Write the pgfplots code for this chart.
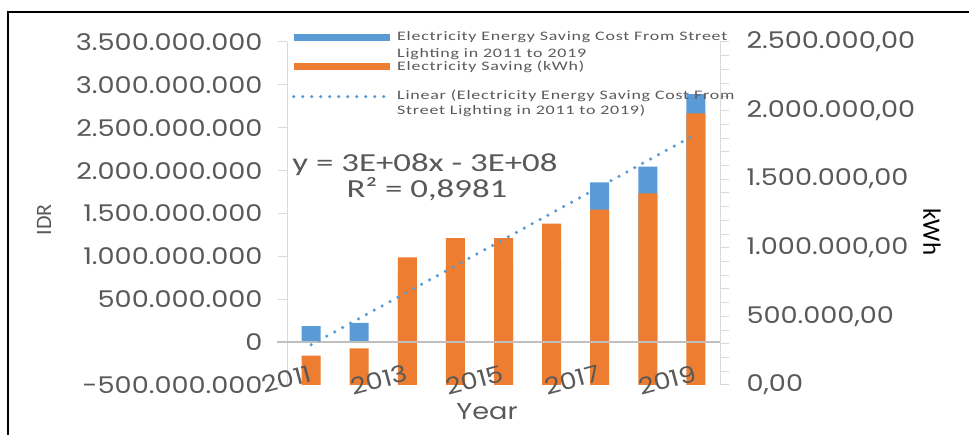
\documentclass[border=0pt]{standalone}
\usepackage{pgfplots}
\usepackage{pgfplotstable}
\pgfplotsset{compat=1.18}
\usepackage{fontspec}
\setmainfont{Carlito}
\newfontfamily\tickfont[FakeStretch=1.18]{Poppins}
\newfontfamily\eqfont[FakeStretch=1.34]{Carlito}
\newfontfamily\legfont[FakeStretch=1.38,LetterSpace=6]{Carlito}
\definecolor{cblue}{HTML}{5B9BD5}
\definecolor{corange}{HTML}{ED7D31}
\definecolor{ctext}{HTML}{595959}
\definecolor{cline}{HTML}{D9D9D9}
\definecolor{czero}{HTML}{BFBFBF}

\pgfplotstableread{
x year cost kwh
0 2011 186000000 214000
1 2012 225000000 267000
2 2013 836000000 931000
3 2014 872000000 1071000
4 2015 907000000 1071000
5 2016 943000000 1176000
6 2017 1864000000 1278000
7 2018 2047000000 1397000
8 2019 2893000000 1980000
}\data

\pgfplotsset{
  common/.style={
    at={(287pt,50pt)}, anchor=south west, scale only axis,
    width=433pt, height=343pt, xmin=-0.5, xmax=8.5,
    axis line style={-}, scaled y ticks=false, scaled x ticks=false,
  },
}

\begin{document}
\begin{tikzpicture}
\path[use as bounding box] (0,0) rectangle (969pt,435pt);
\draw[black, line width=1.6pt] (8pt,-5pt) -- (8pt,423pt) -- (975pt,423pt);

% left axis: cost (IDR)
\begin{axis}[common,
  ymin=-500000000, ymax=3500000000,
  axis y line*=left, axis x line=none,
  y axis line style={draw=cline, line width=1pt},
  ytick={-500000000,0,500000000,1000000000,1500000000,2000000000,2500000000,3000000000,3500000000},
  yticklabels={-500.000.000,0,500.000.000,1.000.000.000,1.500.000.000,2.000.000.000,2.500.000.000,3.000.000.000,3.500.000.000},
  yticklabel style={font=\tickfont\fontsize{23}{23}\selectfont, text=ctext, xshift=-12pt},
  ytick pos=left, tick align=outside, major tick length=9pt,
  ytick style={draw=cline, line width=1pt},
]
\addplot[ybar, bar width=19pt, fill=cblue, draw=none] table[x=x, y=cost] {\data};
\end{axis}

% right axis: kWh
\begin{axis}[common,
  ymin=0, ymax=2500000,
  axis y line*=right, axis x line=none,
  y axis line style={draw=cline, line width=1pt},
  ytick={0,500000,1000000,1500000,2000000,2500000},
  yticklabels={{0,00},{500.000,00},{1.000.000,00},{1.500.000,00},{2.000.000,00},{2.500.000,00}},
  minor y tick num=4,
  yticklabel style={font=\tickfont\fontsize{23}{23}\selectfont, text=ctext, xshift=14pt},
  tick align=outside, major tick length=9pt, minor tick length=9pt,
  ytick style={draw=cline, line width=1pt},
]
\addplot[ybar, bar width=19pt, fill=corange, draw=none] table[x=x, y=kwh] {\data};
\end{axis}

% zero line of the IDR axis (drawn over the bars)
\draw[czero, line width=1.5pt] (277pt,92.9pt) -- (720pt,92.9pt);

% overlay: trendline, x labels, legend
\begin{axis}[common,
  ymin=-500000000, ymax=3500000000,
  axis y line=none, axis x line*=bottom,
  x axis line style={draw=none},
  xtick={0,2,4,6,8}, xticklabels={2011,2013,2015,2017,2019},
  xtick style={draw=none},
  xticklabel style={font=\tickfont\fontsize{23}{23}\selectfont, text=ctext, rotate=15, anchor=east, inner sep=0pt, yshift=12pt, xshift=3pt},
  xlabel={Year},
  xlabel style={font=\tickfont\fontsize{23}{23}\selectfont, text=ctext, at={(axis description cs:0.462,0)}, anchor=center, yshift=-27pt},
  clip=false,
  legend style={at={(axis description cs:0,1)}, anchor=north west, xshift=3pt, yshift=12pt,
    draw=none, fill=none, inner sep=0pt, row sep=0pt, column sep=0pt,
    font=\legfont\fontsize{13}{15}\selectfont, text=ctext,
    nodes={inner sep=0pt}},
  legend cell align=left,
  legend image code/.code={\draw[#1] (0pt,0pt) -- (96pt,0pt);},
]
\addplot[cblue, line width=3.5pt, dash pattern=on 0pt off 9pt, line cap=round, forget plot]
  table[x=x, y={create col/linear regression={y=cost}}] {\data};
\addlegendimage{cblue, line width=7pt}
\addlegendentry[text height=10pt, text depth=5pt]{\hspace*{4pt}Electricity Energy Saving Cost From Street}
\addlegendimage{empty legend}
\addlegendentry[text height=12pt, text depth=3pt]{\hspace*{4pt}Lighting in 2011 to 2019}
\addlegendimage{corange, line width=7pt}
\addlegendentry[text height=10pt, text depth=3pt]{\hspace*{4pt}Electricity Saving (kWh)}
\addlegendimage{empty legend}
\addlegendentry[text height=0pt, text depth=16pt]{\mbox{}}
\addlegendimage{cblue, line width=3.5pt, dash pattern=on 0pt off 9pt, line cap=round}
\addlegendentry[text height=10pt, text depth=5pt]{\hspace*{4pt}Linear (Electricity Energy Saving Cost From}
\addlegendimage{empty legend}
\addlegendentry[text height=10pt, text depth=3pt]{\hspace*{4pt}Street Lighting in 2011 to 2019)}
\end{axis}

% texts
\node[anchor=base, font=\eqfont\fontsize{26}{26}\selectfont, text=ctext] at (425pt,263pt) {y = 3E+08x - 3E+08};
\node[anchor=base, font=\eqfont\fontsize{26}{26}\selectfont, text=ctext] at (427pt,237pt) {R² = 0,8981};
\node[rotate=90, font=\fontsize{22}{22}\selectfont, text=ctext] at (44pt,215pt) {IDR};
\node[rotate=-90, font=\fontsize{25}{25}\selectfont, text=black] at (932pt,203pt) {kWh};
\end{tikzpicture}
\end{document}
